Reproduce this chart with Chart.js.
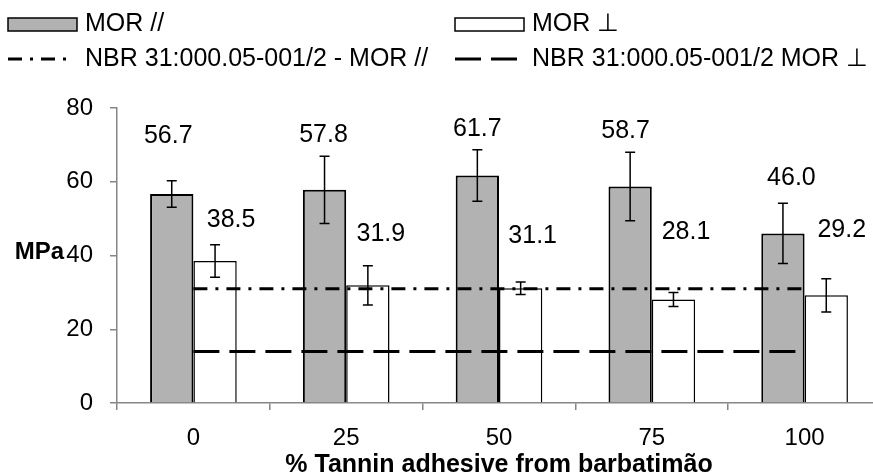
<!DOCTYPE html>
<html>
<head>
<meta charset="utf-8">
<script src="https://cdn.jsdelivr.net/npm/chart.js@4"></script>
<style>
  html, body { margin: 0; padding: 0; background: #fff; overflow: hidden; }
  #wrap { position: absolute; left: 0; top: 0; width: 881px; height: 480px; }
</style>
</head>
<body>
<div id="wrap"><canvas id="myChart"></canvas></div>
<script>
// values
const categories = ['0', '25', '50', '75', '100'];
const morPar = [56.7, 57.8, 61.7, 58.7, 46.0];
const morPerp = [38.5, 31.9, 31.1, 28.1, 29.2];
const errPar = [3.6, 9.1, 7.0, 9.3, 8.2];
const errPerp = [4.4, 5.3, 1.7, 1.9, 4.5];
const nbrPar = [31, 31, 31, 31, 31];
const nbrPerp = [14, 14, 14, 14, 14];
const yTicks = [0, 20, 40, 60, 80];

const FONT = '"Liberation Sans", Arial, sans-serif';
Chart.defaults.font.family = FONT;
Chart.defaults.font.size = 24;
Chart.defaults.color = '#000';

// hand placed value labels (px from bar top), as in the original figure
const labelShift = [
  [[-3.5, -58], [-1, -54.5], [0, -46], [-4.5, -55.3], [8.5, -55.7]],
  [[16, -41], [13, -51], [12, -52.6], [12.5, -67.6], [15.5, -65.7]]
];
const errors = [errPar, errPerp];

const barExtras = {
  id: 'barExtras',
  afterDatasetsDraw(chart) {
    const ctx = chart.ctx;
    const y = chart.scales.y;
    ctx.save();
    [0, 1].forEach((di) => {
      const meta = chart.getDatasetMeta(di);
      const vals = chart.data.datasets[di].data;
      meta.data.forEach((bar, j) => {
        let v = vals[j], e = errors[di][j];
        let top = y.getPixelForValue(v + e), bot = y.getPixelForValue(v - e);
        ctx.strokeStyle = '#000';
        ctx.lineWidth = 1.5;
        ctx.beginPath();
        ctx.moveTo(bar.x, top); ctx.lineTo(bar.x, bot);
        ctx.moveTo(bar.x - 5, top); ctx.lineTo(bar.x + 5, top);
        ctx.moveTo(bar.x - 5, bot); ctx.lineTo(bar.x + 5, bot);
        ctx.stroke();

        let s = labelShift[di][j];
        ctx.fillStyle = '#000';
        ctx.font = '25px ' + FONT;
        ctx.textAlign = 'center';
        ctx.textBaseline = 'middle';
        ctx.fillText(v.toFixed(1), bar.x + s[0], bar.y + s[1]);
      });
    });
    ctx.restore();
  },
  afterDraw(chart) {
    const ctx = chart.ctx;
    const area = chart.chartArea;
    ctx.save();
    // y axis title, horizontal
    ctx.font = 'bold 24px ' + FONT;
    ctx.fillStyle = '#000';
    ctx.textAlign = 'right';
    ctx.textBaseline = 'middle';
    ctx.fillText('MPa', 64, (area.top + area.bottom) / 2 - 3);

    // legend in two columns
    const slots = [[8, 24.5], [455, 24.5], [8, 59], [455, 59]];
    chart.data.datasets.forEach((ds, i) => {
      let x = slots[i][0], yy = slots[i][1];
      if (ds.type === 'line') {
        ctx.strokeStyle = ds.borderColor;
        ctx.lineWidth = ds.borderWidth;
        ctx.setLineDash(ds.borderDash);
        ctx.beginPath();
        ctx.moveTo(x, yy); ctx.lineTo(x + 62, yy);
        ctx.stroke();
        ctx.setLineDash([]);
      } else {
        ctx.fillStyle = ds.backgroundColor;
        ctx.fillRect(x, yy - 6.5, 69, 13);
        ctx.strokeStyle = '#000';
        ctx.lineWidth = 1.5;
        ctx.strokeRect(x, yy - 6.5, 69, 13);
      }
      ctx.fillStyle = '#000';
      ctx.font = '25px ' + FONT;
      ctx.textAlign = 'left';
      ctx.textBaseline = 'middle';
      ctx.fillText(ds.label, x + 77, yy);
    });
    ctx.restore();
  }
};

const data = {
  labels: categories,
  datasets: [
    {
      label: 'MOR //',
      data: morPar,
      backgroundColor: '#b2b2b2',
      borderColor: '#000',
      borderWidth: 2,
      order: 2
    },
    {
      label: 'MOR ⊥',
      data: morPerp,
      backgroundColor: '#ffffff',
      borderColor: '#000',
      borderWidth: 1.5,
      order: 2
    },
    {
      type: 'line',
      label: 'NBR 31:000.05-001/2 - MOR //',
      data: nbrPar,
      borderColor: '#000',
      borderWidth: 3,
      borderDash: [14, 8, 3, 8],
      pointRadius: 0,
      fill: false,
      order: 1
    },
    {
      type: 'line',
      label: 'NBR 31:000.05-001/2 MOR ⊥',
      data: nbrPerp,
      borderColor: '#000',
      borderWidth: 3,
      borderDash: [26, 10],
      pointRadius: 0,
      fill: false,
      order: 1
    }
  ]
};

const config = {
  type: 'bar',
  data: data,
  options: {
    responsive: true,
    maintainAspectRatio: false,
    animation: false,
    layout: { padding: { top: 108, left: 66, right: 0, bottom: 0 } },
    datasets: { bar: { barPercentage: 1, categoryPercentage: 0.567 } },
    plugins: {
      legend: { display: false },
      tooltip: { enabled: false }
    },
    scales: {
      x: {
        afterFit: (scale) => { scale.height = 77; },
        grid: { drawOnChartArea: false, tickLength: 7, color: '#868686', lineWidth: 1.5 },
        border: { color: '#868686', width: 1.5 },
        ticks: { padding: 14, font: { size: 24 } },
        title: {
          display: true,
          text: '% Tannin adhesive from barbatimão',
          font: { size: 25, weight: 'bold', lineHeight: 1.2 },
          padding: { top: 0, bottom: 0 }
        }
      },
      y: {
        min: 0,
        max: 80,
        afterBuildTicks: (scale) => { scale.ticks = yTicks.map(v => ({ value: v })); },
        afterFit: (scale) => { scale.width = 51; },
        grid: { drawOnChartArea: false, tickLength: 7, color: '#868686', lineWidth: 1.5 },
        border: { color: '#868686', width: 1.5 },
        ticks: { padding: 17, font: { size: 24 } }
      }
    }
  },
  plugins: [barExtras]
};

new Chart(document.getElementById('myChart'), config);
</script>
</body>
</html>
